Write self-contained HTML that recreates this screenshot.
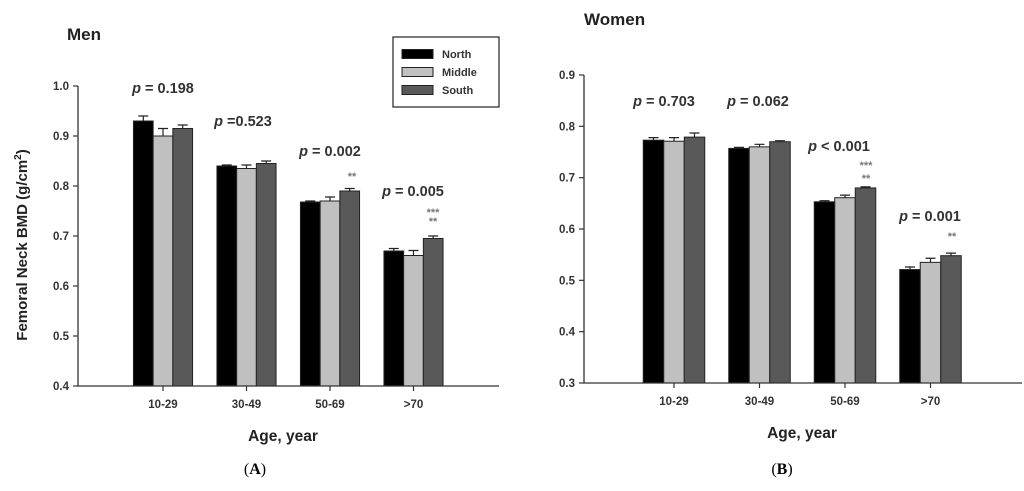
<!DOCTYPE html>
<html><head><meta charset="utf-8"><style>
html,body{margin:0;padding:0;background:#fff;}
svg{display:block;font-family:"Liberation Sans",Arial,sans-serif;}
</style></head><body>
<svg id="chart" width="1024" height="491" viewBox="0 0 1024 491" xmlns="http://www.w3.org/2000/svg">
<g id="men"></g>
<g id="women"></g>
</svg>
<script>
const categories = ["10-29","30-49","50-69",">70"];
const seriesNames = ["North","Middle","South"];
const menNorth = [0.930,0.840,0.768,0.670];
const menMiddle = [0.900,0.835,0.770,0.661];
const menSouth = [0.915,0.845,0.790,0.695];
const menNorthErr = [0.010,0.002,0.002,0.005];
const menMiddleErr = [0.015,0.007,0.008,0.010];
const menSouthErr = [0.007,0.005,0.005,0.005];
const menTicks = ["0.4","0.5","0.6","0.7","0.8","0.9","1.0"];
const menP = ["= 0.198","=0.523","= 0.002","= 0.005"];
const womenNorth = [0.773,0.757,0.653,0.521];
const womenMiddle = [0.771,0.760,0.661,0.535];
const womenSouth = [0.779,0.770,0.680,0.548];
const womenNorthErr = [0.005,0.002,0.002,0.005];
const womenMiddleErr = [0.007,0.005,0.005,0.008];
const womenSouthErr = [0.008,0.002,0.002,0.005];
const womenTicks = ["0.3","0.4","0.5","0.6","0.7","0.8","0.9"];
const womenP = ["= 0.703","= 0.062","< 0.001","= 0.001"];
const colors = ["#000000","#c0c0c0","#595959"];
const NS="http://www.w3.org/2000/svg";
function el(parent,tag,attrs,text){const e=document.createElementNS(NS,tag);for(const k in attrs)e.setAttribute(k,attrs[k]);if(text!==undefined)e.textContent=text;parent.appendChild(e);return e;}

function panel(g,cfg){
  const {x0,x1,yTop,yBot,vMin,vMax,cx0,cdx,bw,series,errs,ticks,pLabels,pPos,stars,title,titlePos,letter,letterX,axTitleX,name}=cfg;
  const y=v=>yBot-(v-vMin)/(vMax-vMin)*(yBot-yTop);
  const xc=i=>cx0+i*cdx;
  // title
  let t=el(g,'text',{x:titlePos[0],y:titlePos[1],'font-size':17,'font-weight':'bold',fill:'#222'},title);
  
  
  // bars
  series.forEach((vals,s)=>{
    vals.forEach((v,i)=>{
      const bx=xc(i)-1.5*bw+s*bw;
      const r=el(g,'rect',{x:bx,y:y(v),width:bw,height:yBot-y(v),fill:colors[s],stroke:'#222','stroke-width':1});
      
      
      const e=errs[s][i], mx=bx+bw/2;
      const eb=el(g,'path',{d:`M${mx},${y(v)} V${y(v+e)} M${mx-5},${y(v+e)} H${mx+5}`,stroke:'#222','stroke-width':1.2,fill:'none'});
      
      
    });
  });
  // axes
  const ax=el(g,'path',{d:`M${x0},${yTop} V${yBot} H${x1}`,stroke:'#333','stroke-width':1.3,fill:'none'});
  
  
  ticks.forEach((lbl,k)=>{
    const v=parseFloat(lbl), yy=y(v);
    el(g,'line',{x1:x0-5,x2:x0,y1:yy,y2:yy,stroke:'#333','stroke-width':1.2});
    const tl=el(g,'text',{x:x0-9,y:yy+4,'text-anchor':'end','font-size':11.5,'font-weight':'bold',fill:'#333'},lbl);
    
    
  });
  categories.forEach((c,i)=>{
    el(g,'line',{x1:xc(i),x2:xc(i),y1:yBot,y2:yBot+5,stroke:'#333','stroke-width':1.2});
    const tl=el(g,'text',{x:xc(i),y:yBot+22,'text-anchor':'middle','font-size':11.5,'font-weight':'bold',fill:'#333'},c);
    
    
  });
  pLabels.forEach((p,i)=>{
    const tx=el(g,'text',{x:pPos[i][0],y:pPos[i][1],'text-anchor':'middle','font-size':14.5,'font-weight':'bold',fill:'#333'});
    
    
    el(tx,'tspan',{'font-style':'italic'},'p');
    el(tx,'tspan',{},' '+p);
  });
  stars.forEach(s=>{
    const st=el(g,'text',{x:s[0],y:s[1],'text-anchor':'middle','font-size':11,'font-weight':'bold',fill:'#777'},s[2]);
    
    
  });
  const xt=el(g,'text',{x:axTitleX,y:yBot+55,'text-anchor':'middle','font-size':15.5,'font-weight':'bold',fill:'#222'},'Age, year');
  
  
  const lt=el(g,'text',{x:letterX,y:474,'text-anchor':'middle','font-size':16,'font-family':'"Liberation Serif",serif',fill:'#000'});
  
  
  el(lt,'tspan',{},'(');el(lt,'tspan',{'font-weight':'bold'},letter);el(lt,'tspan',{},')');
}

panel(document.getElementById('men'),{name:'men',x0:78,x1:499,yTop:86,yBot:386,vMin:0.4,vMax:1.0,cx0:163,cdx:83.5,bw:19.7,
  series:[menNorth,menMiddle,menSouth],errs:[menNorthErr,menMiddleErr,menSouthErr],ticks:menTicks,pLabels:menP,
  pPos:[[163,93],[243,126],[330,156],[413,196]],stars:[[352,180,'**'],[433,216,'***'],[433,225,'**']],
  title:'Men',titlePos:[67,40],letter:'A',letterX:255,axTitleX:283});
panel(document.getElementById('women'),{name:'women',x0:584,x1:1022,yTop:75,yBot:383,vMin:0.3,vMax:0.9,cx0:674,cdx:85.5,bw:20.5,
  series:[womenNorth,womenMiddle,womenSouth],errs:[womenNorthErr,womenMiddleErr,womenSouthErr],ticks:womenTicks,pLabels:womenP,
  pPos:[[664,106],[758,106],[839,151],[930,221]],stars:[[866,169,'***'],[866,182,'**'],[952,240,'**']],
  title:'Women',titlePos:[584,25],letter:'B',letterX:782,axTitleX:802});

// y-axis title (men)
const svg=document.getElementById('chart');
const yt=el(svg,'text',{x:0,y:0,transform:'translate(27,245) rotate(-90)','text-anchor':'middle','font-size':15,'font-weight':'bold',fill:'#222'});


el(yt,'tspan',{},'Femoral Neck BMD (g/cm');
el(yt,'tspan',{'font-size':10,dy:-6},'2');
el(yt,'tspan',{dy:6},')');

// legend
const lg=el(svg,'g',{});


el(lg,'rect',{x:393,y:37,width:106,height:70,fill:'#fff',stroke:'#222','stroke-width':1.2});
seriesNames.forEach((n,s)=>{
  const yy=[54,72,90][s];
  const sw=el(lg,'rect',{x:402,y:yy-4.5,width:31,height:9,fill:colors[s],stroke:'#222','stroke-width':1});
  
  
  const lt=el(lg,'text',{x:442,y:yy+4,'font-size':11,'font-weight':'bold',fill:'#333'},n);
  
  
});
</script>
</body></html>
